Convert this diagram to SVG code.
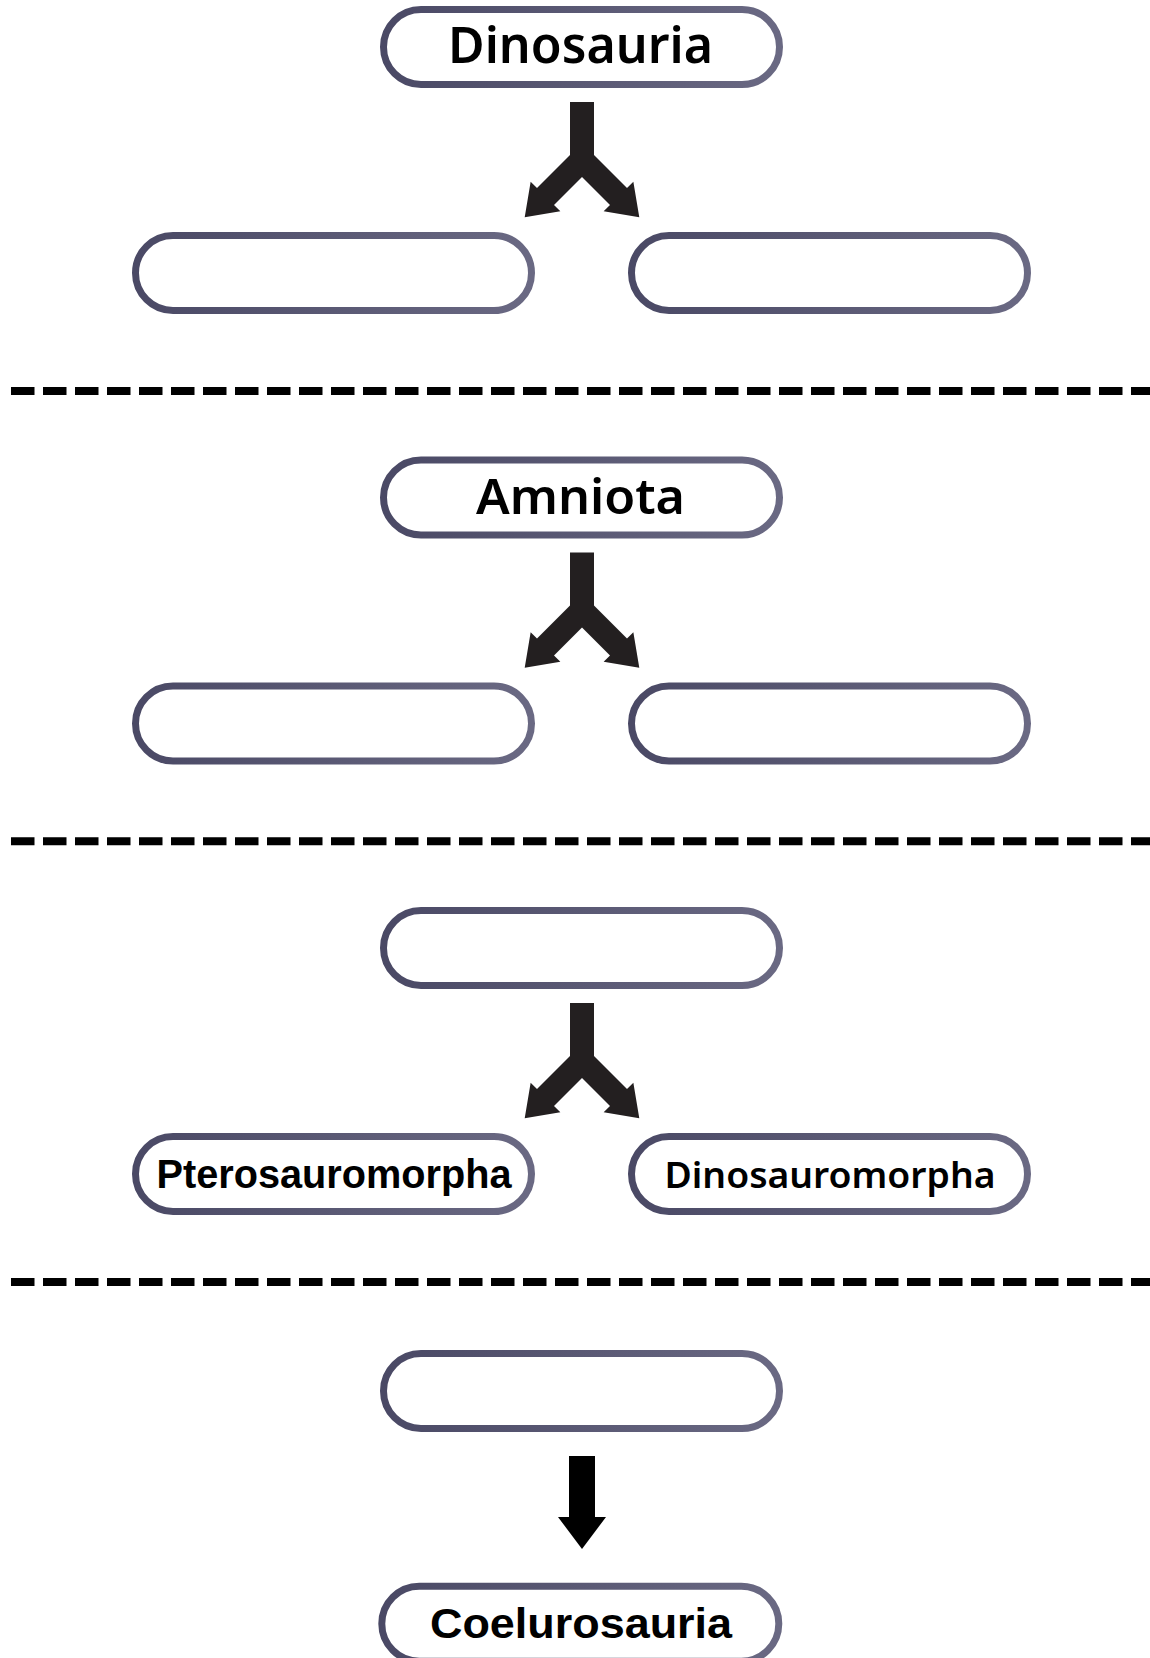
<svg xmlns="http://www.w3.org/2000/svg" width="1150" height="1658" viewBox="0 0 1150 1658">
  <defs>
    <linearGradient id="boxStroke" x1="0" y1="0" x2="1" y2="0">
      <stop offset="0" stop-color="#4a4965"/>
      <stop offset="1" stop-color="#6a6983"/>
    </linearGradient>
    <polygon id="split" points="570,102 594,102 594,155 627,188 633.35,181.65 639.3,217.3 603.65,211.35 610,205 582,177 554,205 560.35,211.35 524.7,217.3 530.65,181.65 537,188 570,155"/>
  </defs>
  <style>
    .box { fill: #ffffff; stroke: url(#boxStroke); stroke-width: 7; }
    .geo { font-family: "Noto Sans", "DejaVu Sans", sans-serif; font-weight: 600; fill: #000; }
    .bold { font-family: "Liberation Sans", Arial, sans-serif; font-weight: 700; fill: #000; }
    .dash { stroke: #000; stroke-width: 8; stroke-dasharray: 23.5 8.5; fill: none; }
    .arrow { fill: #231f20; }
  </style>
  <rect width="1150" height="1658" fill="#ffffff"/>

  <g id="separators">
    <line class="dash" x1="11" y1="391" x2="1150" y2="391"/>
    <line class="dash" x1="11" y1="841.3" x2="1150" y2="841.3"/>
    <line class="dash" x1="11" y1="1282" x2="1150" y2="1282"/>
  </g>

  <g id="connectors">
    <use href="#split" class="arrow"/>
    <use href="#split" class="arrow" transform="translate(0,450.5)"/>
    <use href="#split" class="arrow" transform="translate(0,901)"/>
    <polygon fill="#000" points="569,1456 595,1456 595,1517 606,1517 582,1549 558,1517 569,1517"/>
  </g>

  <g id="node-dinosauria">
    <rect class="box" x="383.5" y="9.5" width="396" height="75" rx="37.5"/>
    <text class="geo" x="580.5" y="63" font-size="50" text-anchor="middle" textLength="265" lengthAdjust="spacingAndGlyphs">Dinosauria</text>
  </g>
  <g id="node-s1-left">
    <rect class="box" x="135.5" y="235.5" width="396" height="75" rx="37.5"/>
  </g>
  <g id="node-s1-right">
    <rect class="box" x="631.5" y="235.5" width="396" height="75" rx="37.5"/>
  </g>

  <g id="node-amniota">
    <rect class="box" x="383.5" y="460" width="396" height="75" rx="37.5"/>
    <text class="geo" x="580.5" y="514" font-size="49" text-anchor="middle" textLength="209" lengthAdjust="spacingAndGlyphs">Amniota</text>
  </g>
  <g id="node-s2-left">
    <rect class="box" x="135.5" y="686" width="396" height="75" rx="37.5"/>
  </g>
  <g id="node-s2-right">
    <rect class="box" x="631.5" y="686" width="396" height="75" rx="37.5"/>
  </g>

  <g id="node-s3-top">
    <rect class="box" x="383.5" y="910.5" width="396" height="75" rx="37.5"/>
  </g>
  <g id="node-pterosauromorpha">
    <rect class="box" x="135.5" y="1136.5" width="396" height="75" rx="37.5"/>
    <text class="bold" x="334" y="1188" font-size="40" text-anchor="middle" textLength="355" lengthAdjust="spacingAndGlyphs">Pterosauromorpha</text>
  </g>
  <g id="node-dinosauromorpha">
    <rect class="box" x="631.5" y="1136.5" width="396" height="75" rx="37.5"/>
    <text class="geo" x="830" y="1188" font-size="36" text-anchor="middle" textLength="331" lengthAdjust="spacingAndGlyphs">Dinosauromorpha</text>
  </g>

  <g id="node-s4-top">
    <rect class="box" x="383.5" y="1353.5" width="396" height="75" rx="37.5"/>
  </g>
  <g id="node-coelurosauria">
    <rect class="box" x="381.8" y="1586.2" width="397" height="75" rx="37.5"/>
    <text class="bold" x="581" y="1638" font-size="43" text-anchor="middle" textLength="302" lengthAdjust="spacingAndGlyphs">Coelurosauria</text>
  </g>
</svg>
